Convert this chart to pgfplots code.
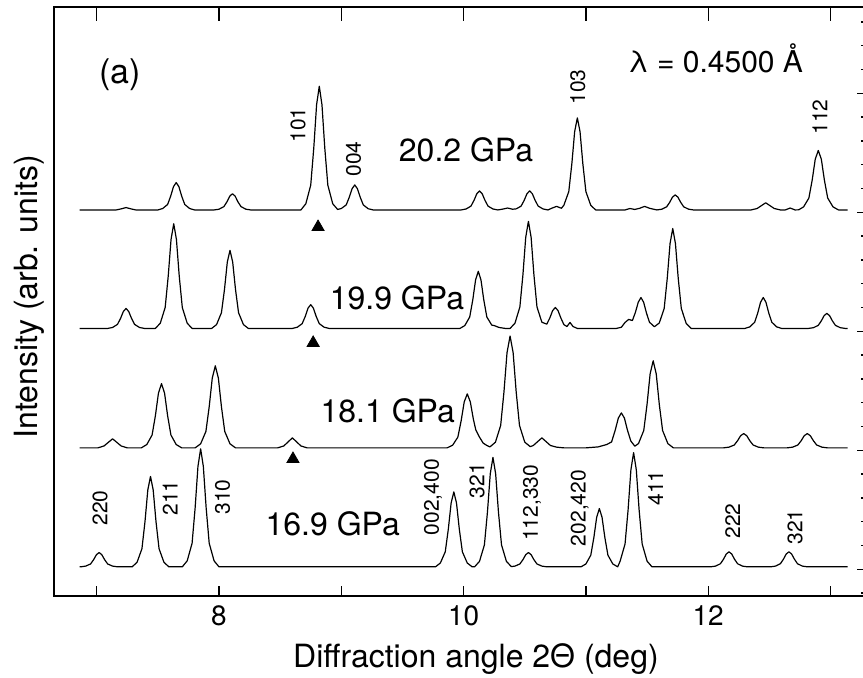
\documentclass[border=0pt]{standalone}
\usepackage{pgfplots}
\pgfplotsset{compat=1.18}
\usepackage{pgfplotstable}
\usepackage{fontspec}
\setmainfont{TeX Gyre Heros}

\newcommand{\bigfont}{\fontsize{16}{19}\selectfont}
\newcommand{\hklfont}{\fontsize{10.5}{12}\selectfont}

% intensities relative to each pattern's own baseline
\pgfplotstableread{
x y
6.86 0
7.16 0
7.20 0.045
7.24 0.10
7.28 0.045
7.32 0
7.50 0
7.54 0.06
7.58 0.23
7.605 0.58
7.628 0.98
7.65 1.15
7.672 0.98
7.695 0.58
7.72 0.23
7.76 0.06
7.80 0
7.96 0
8.00 0.03
8.04 0.14
8.065 0.34
8.088 0.58
8.11 0.68
8.132 0.58
8.155 0.34
8.18 0.14
8.22 0.03
8.26 0
8.67 0
8.71 0.26
8.75 1.04
8.775 2.6
8.798 4.42
8.82 5.2
8.842 4.42
8.865 2.6
8.89 1.04
8.93 0.26
8.97 0.02
9.00 0.06
9.04 0.21
9.065 0.53
9.088 0.89
9.11 1.05
9.132 0.89
9.155 0.53
9.18 0.21
9.22 0.05
9.26 0
9.98 0
10.02 0.04
10.06 0.16
10.085 0.40
10.108 0.68
10.13 0.80
10.152 0.68
10.175 0.40
10.20 0.16
10.24 0.04
10.28 0
10.32 0.035
10.36 0.08
10.40 0.03
10.43 0.045
10.47 0.16
10.495 0.40
10.518 0.68
10.54 0.80
10.562 0.68
10.585 0.40
10.61 0.16
10.65 0.04
10.69 0
10.72 0.07
10.76 0.15
10.80 0.07
10.82 0.20
10.86 0.77
10.885 1.94
10.908 3.29
10.93 3.87
10.952 3.29
10.975 1.94
11.00 0.77
11.04 0.19
11.08 0
11.32 0
11.36 0.06
11.40 0.02
11.44 0.07
11.48 0.15
11.52 0.07
11.58 0
11.62 0.03
11.66 0.13
11.685 0.32
11.708 0.54
11.73 0.63
11.752 0.54
11.775 0.32
11.80 0.13
11.84 0.03
11.88 0
12.35 0
12.40 0.06
12.435 0.18
12.47 0.30
12.505 0.18
12.54 0.06
12.59 0
12.63 0
12.67 0.08
12.71 0
12.74 0.005
12.78 0.13
12.823 0.50
12.85 1.25
12.875 2.13
12.90 2.50
12.925 2.13
12.95 1.25
12.977 0.50
13.02 0.13
13.065 0
13.14 0
}\patA

\pgfplotstableread{
x y
6.86 0
7.09 0
7.13 0.04
7.17 0.17
7.195 0.42
7.218 0.71
7.24 0.84
7.262 0.71
7.285 0.42
7.31 0.17
7.35 0.04
7.39 0
7.48 0
7.52 0.22
7.56 0.88
7.585 2.2
7.608 3.74
7.63 4.4
7.652 3.74
7.675 2.2
7.70 0.88
7.74 0.22
7.78 0
7.94 0
7.98 0.16
8.02 0.66
8.045 1.64
8.068 2.79
8.09 3.28
8.112 2.79
8.135 1.64
8.16 0.66
8.20 0.16
8.24 0
8.60 0
8.64 0.05
8.68 0.20
8.705 0.50
8.728 0.85
8.75 1.0
8.772 0.85
8.795 0.50
8.82 0.20
8.86 0.05
8.90 0
9.97 0
10.01 0.12
10.05 0.48
10.075 1.2
10.098 2.04
10.12 2.4
10.142 2.04
10.165 1.2
10.19 0.48
10.23 0.14
10.25 0.12
10.29 0.04
10.34 0
10.38 0
10.42 0.22
10.46 0.9
10.485 2.25
10.508 3.83
10.53 4.5
10.552 3.83
10.575 2.25
10.60 0.9
10.64 0.26
10.68 0.18
10.705 0.44
10.728 0.75
10.75 0.88
10.772 0.75
10.795 0.44
10.82 0.16
10.845 0.08
10.87 0.25
10.895 0.08
10.93 0
11.25 0
11.29 0.05
11.32 0.25
11.35 0.38
11.38 0.33
11.405 0.68
11.428 1.1
11.45 1.3
11.472 1.1
11.495 0.65
11.52 0.26
11.56 0.07
11.60 0.23
11.64 0.84
11.665 2.1
11.688 3.57
11.71 4.2
11.732 3.57
11.755 2.1
11.78 0.84
11.82 0.21
11.86 0
12.30 0
12.34 0.065
12.38 0.26
12.405 0.65
12.428 1.1
12.45 1.3
12.472 1.1
12.495 0.65
12.52 0.26
12.56 0.065
12.60 0
12.82 0
12.86 0.03
12.90 0.13
12.925 0.32
12.948 0.54
12.97 0.63
12.992 0.54
13.015 0.32
13.04 0.13
13.08 0.03
13.12 0
13.14 0
}\patB

\pgfplotstableread{
x y
6.86 0
7.01 0
7.06 0.08
7.095 0.23
7.13 0.38
7.165 0.23
7.20 0.08
7.25 0
7.365 0
7.41 0.14
7.453 0.54
7.48 1.35
7.505 2.3
7.53 2.7
7.555 2.3
7.58 1.35
7.607 0.54
7.65 0.14
7.695 0
7.805 0
7.85 0.17
7.893 0.69
7.92 1.73
7.945 2.93
7.97 3.45
7.995 2.93
8.02 1.73
8.047 0.69
8.09 0.17
8.135 0
8.48 0
8.53 0.08
8.565 0.25
8.60 0.42
8.635 0.25
8.67 0.08
8.72 0
9.865 0
9.91 0.11
9.953 0.45
9.98 1.14
10.005 1.93
10.03 2.27
10.055 1.93
10.08 1.2
10.10 0.75
10.13 0.45
10.16 0.2
10.19 0.1
10.215 0.04
10.26 0.235
10.303 0.94
10.33 2.35
10.355 4.0
10.38 4.7
10.405 4.0
10.43 2.35
10.457 0.94
10.50 0.24
10.545 0.05
10.57 0.10
10.605 0.26
10.64 0.42
10.675 0.26
10.71 0.10
10.76 0.03
10.82 0
11.00 0
11.10 0.04
11.17 0.14
11.21 0.25
11.24 0.75
11.265 1.25
11.29 1.47
11.315 1.25
11.34 0.74
11.367 0.29
11.40 0.07
11.43 0.18
11.473 0.73
11.50 1.83
11.525 3.11
11.55 3.66
11.575 3.11
11.60 1.83
11.627 0.73
11.67 0.18
11.715 0
12.125 0
12.17 0.03
12.213 0.12
12.24 0.30
12.265 0.51
12.29 0.60
12.315 0.51
12.34 0.30
12.367 0.12
12.41 0.03
12.455 0
12.645 0
12.69 0.03
12.733 0.12
12.76 0.30
12.785 0.51
12.81 0.60
12.835 0.51
12.86 0.30
12.887 0.12
12.93 0.03
12.975 0
13.14 0
}\patC

\pgfplotstableread{
x y
6.86 0
6.87 0
6.91 0.03
6.95 0.12
6.975 0.30
6.998 0.51
7.02 0.60
7.042 0.51
7.065 0.30
7.09 0.12
7.13 0.03
7.17 0
7.29 0
7.33 0.19
7.37 0.76
7.395 1.9
7.418 3.23
7.44 3.8
7.462 3.23
7.485 1.9
7.51 0.76
7.55 0.19
7.59 0
7.70 0
7.74 0.25
7.78 0.99
7.805 2.48
7.828 4.22
7.85 4.96
7.872 4.22
7.895 2.48
7.92 0.99
7.96 0.25
8.00 0
9.77 0
9.81 0.16
9.85 0.63
9.875 1.58
9.898 2.68
9.92 3.15
9.942 2.68
9.965 1.58
9.99 0.63
10.03 0.16
10.07 0
10.09 0
10.13 0.23
10.17 0.92
10.195 2.3
10.218 3.91
10.24 4.6
10.262 3.91
10.285 2.3
10.31 0.92
10.35 0.23
10.39 0.01
10.42 0.03
10.46 0.12
10.485 0.30
10.508 0.51
10.53 0.60
10.552 0.51
10.575 0.30
10.60 0.12
10.64 0.03
10.68 0
10.96 0
11.00 0.12
11.04 0.49
11.065 1.23
11.088 2.08
11.11 2.45
11.132 2.08
11.155 1.23
11.18 0.49
11.22 0.12
11.26 0
11.28 0.24
11.32 0.96
11.345 2.4
11.368 4.08
11.39 4.8
11.412 4.08
11.435 2.4
11.46 0.96
11.50 0.24
11.54 0
12.02 0
12.06 0.03
12.10 0.13
12.125 0.32
12.148 0.54
12.17 0.63
12.192 0.54
12.215 0.32
12.24 0.13
12.28 0.03
12.32 0
12.51 0
12.55 0.03
12.59 0.13
12.615 0.32
12.638 0.54
12.66 0.63
12.682 0.54
12.705 0.32
12.73 0.13
12.77 0.03
12.81 0
13.14 0
}\patD

\begin{document}
\begin{tikzpicture}
\path[use as bounding box] (-27pt,-41pt) rectangle (404.5pt,298pt);

% right-hand and top ticks
\begin{axis}[
    at={(0,0)}, anchor=south west,
    width=408.5pt, height=294.5pt, scale only axis,
    xmin=6.651, xmax=13.331, ymin=-0.126, ymax=24.63,
    axis line style={draw=none},
    xtick={7,...,13}, xticklabels={}, xtick pos=top,
    ytick={1,6,11,16,21}, yticklabels={}, ytick pos=right,
    minor ytick={0,2,3,4,5,7,8,9,10,12,13,14,15,17,18,19,20,22,23,24},
    tick align=inside,
    major tick length=7pt, minor tick length=5pt,
    tick style={line width=0.7pt, black},
  ]
\end{axis}

\begin{axis}[
    at={(0,0)}, anchor=south west,
    width=408.5pt, height=294.5pt, scale only axis,
    xmin=6.651, xmax=13.331, ymin=-0.126, ymax=24.63,
    axis line style={line width=1.2pt},
    xtick={7,...,13}, xticklabels={,8,,10,,12,}, xtick pos=bottom,
    ytick=\empty, minor ytick={0,...,24}, ytick pos=left,
    tick align=inside,
    major tick length=5pt, minor tick length=7.5pt,
    tick style={line width=0.7pt, black},
    xticklabel style={font=\fontsize{14}{16}\selectfont, yshift=-1.5pt},
    xlabel={Diffraction angle 2Θ (deg)},
    xlabel style={at={(axis description cs:0.5165,-0.1222)}, anchor=base, font=\bigfont},
    ylabel={Intensity (arb. units)},
    ylabel style={at={(axis description cs:-0.0306,0.508)}, anchor=center, font=\bigfont},
    clip=false,
  ]
  \addplot[black, line width=0.6pt, line join=round] table[x=x, y expr=\thisrow{y}+16.1] {\patA};
  \addplot[black, line width=0.6pt, line join=round] table[x=x, y expr=\thisrow{y}+11.12] {\patB};
  \addplot[black, line width=0.6pt, line join=round] table[x=x, y expr=\thisrow{y}+6.1] {\patC};
  \addplot[black, line width=0.6pt, line join=round] table[x=x, y expr=\thisrow{y}+1.1] {\patD};

  % markers under the new peak
  \addplot[only marks, mark=triangle*, mark size=3.5pt, black] coordinates {
    (8.81,15.38) (8.77,10.51) (8.605,5.63)
  };

  \node[font=\fontsize{17}{20}\selectfont] at (axis cs:7.19,21.77) {(a)};
  \node[font=\fontsize{15}{18}\selectfont, anchor=base] at (axis cs:12.06,21.86) {λ = 0.4500 Å};

  \node[font=\bigfont] at (axis cs:10.02,18.62) {20.2 GPa};
  \node[font=\bigfont] at (axis cs:9.455,12.40) {19.9 GPa};
  \node[font=\bigfont] at (axis cs:9.38,7.65) {18.1 GPa};
  \node[font=\bigfont] at (axis cs:8.93,2.90) {16.9 GPa};

  \node[rotate=90, font=\hklfont] at (axis cs:8.646,19.67) {101};
  \node[rotate=90, font=\hklfont] at (axis cs:9.10,18.24) {004};
  \node[rotate=90, font=\hklfont] at (axis cs:10.935,21.27) {103};
  \node[rotate=90, font=\hklfont] at (axis cs:12.914,20.0) {112};

  \node[rotate=90, font=\hklfont] at (axis cs:7.027,3.57) {220};
  \node[rotate=90, font=\hklfont] at (axis cs:7.60,3.99) {211};
  \node[rotate=90, font=\hklfont] at (axis cs:8.03,4.04) {310};
  \node[rotate=90, font=\hklfont] at (axis cs:9.75,4.03) {002,400};
  \node[rotate=90, font=\hklfont] at (axis cs:10.11,4.72) {321};
  \node[rotate=90, font=\hklfont] at (axis cs:10.56,3.79) {112,330};
  \node[rotate=90, font=\hklfont] at (axis cs:10.95,3.57) {202,420};
  \node[rotate=90, font=\hklfont] at (axis cs:11.57,4.41) {411};
  \node[rotate=90, font=\hklfont] at (axis cs:12.20,3.03) {222};
  \node[rotate=90, font=\hklfont] at (axis cs:12.71,2.77) {321};
\end{axis}
\end{tikzpicture}
\end{document}
